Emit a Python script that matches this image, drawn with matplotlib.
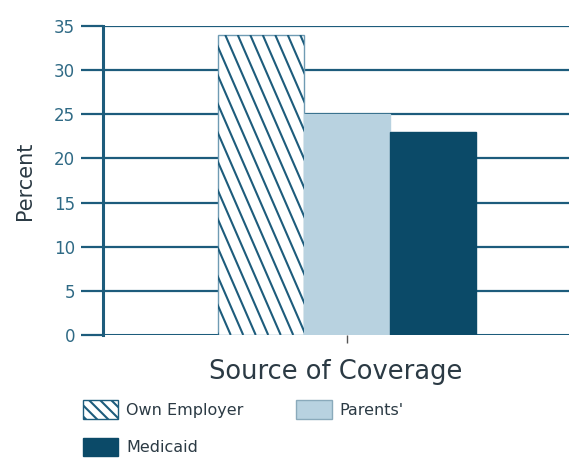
import matplotlib
matplotlib.use("Agg")
import matplotlib.pyplot as plt
import numpy as np
from matplotlib.patches import Patch

categories = ["Own Employer", "Parents'", "Medicaid"]
values = [34, 25, 23]
yticks = [0, 5, 10, 15, 20, 25, 30, 35]

teal = "#1d5c7c"
light = "#b8d2e0"
dark = "#0b4a68"
textc = "#2b3a44"

plt.rcParams['font.family'] = ['DejaVu Sans']
plt.rcParams['hatch.linewidth'] = 1.5

fig = plt.figure(figsize=(5.69, 4.58), dpi=100)
ax = fig.add_axes([0.181, 0.2686, 0.819, 0.6744])

ax.set_ylim(0, 35)
ax.set_xlim(-1.84, 3.58)
for y in yticks:
    ax.axhline(y, color=teal, lw=1.6 if y else 2.2, zorder=1)

x = [0, 1, 2]
width = 1.0
b0 = ax.bar(x[0], values[0], width=width, color="white", edgecolor="#6f9bb3", lw=1, zorder=3)
b1 = ax.bar(x[1], values[1], width=width, color=light, edgecolor=light, lw=1, zorder=3)
b2 = ax.bar(x[2], values[2], width=width, color=dark, edgecolor=dark, lw=1, zorder=3)

# steep diagonal hatch for the first bar, derived from the bar geometry and axes scale
fig.canvas.draw()
rect = b0.patches[0]
bbox = ax.transData.transform([[rect.get_x(), 0], [rect.get_x() + rect.get_width(), rect.get_height()]])
px_w = bbox[1, 0] - bbox[0, 0]
px_h = bbox[1, 1] - bbox[0, 1]
sx = rect.get_width() / px_w   # data per pixel in x
sy = rect.get_height() / px_h  # data per pixel in y
spacing_px = 12.5
slope_px = 2.3
x_left = rect.get_x()
for k in np.arange(-px_h / slope_px, px_w + spacing_px, spacing_px):
    xs_px = np.array([k, k + px_h / slope_px])
    ys_px = np.array([px_h, 0])
    l, = ax.plot(x_left + xs_px * sx, ys_px * sy, color=teal, lw=1.5, zorder=4, solid_capstyle="butt")
    l.set_clip_path(rect)

for s in ["top", "right", "bottom"]:
    ax.spines[s].set_visible(False)
ax.spines["left"].set_color(teal)
ax.spines["left"].set_linewidth(2.2)
ax.spines["left"].set_zorder(5)

ax.set_yticks(yticks)
ax.tick_params(axis="y", length=16, width=1.6, color=teal, labelcolor="#2f6a85", labelsize=12, pad=4)
ax.set_xticks([1])
ax.set_xticklabels([""])
ax.tick_params(axis="x", length=6, width=1, color="#555555")

ax.set_xlabel("Source of Coverage", fontsize=18.5, color=textc, labelpad=8)
ax.set_ylabel("Percent", fontsize=15, color=textc, labelpad=14)

handles = [Patch(facecolor="white", edgecolor=teal, hatch="\\\\\\", lw=1),
           Patch(facecolor=light, edgecolor="#8aaabb", lw=1),
           Patch(facecolor=dark, edgecolor=dark, lw=1)]
order = [0, 2, 1]
fig.legend([handles[i] for i in order], [categories[i] for i in order],
           ncol=2, loc="upper left", bbox_to_anchor=(0.135, 0.14), frameon=False,
           fontsize=11.5, handlelength=2.2, handleheight=1.4, columnspacing=3.3,
           labelspacing=1.2, handletextpad=0.5, labelcolor=textc, borderaxespad=0)

fig.savefig("out.png", dpi=100)
